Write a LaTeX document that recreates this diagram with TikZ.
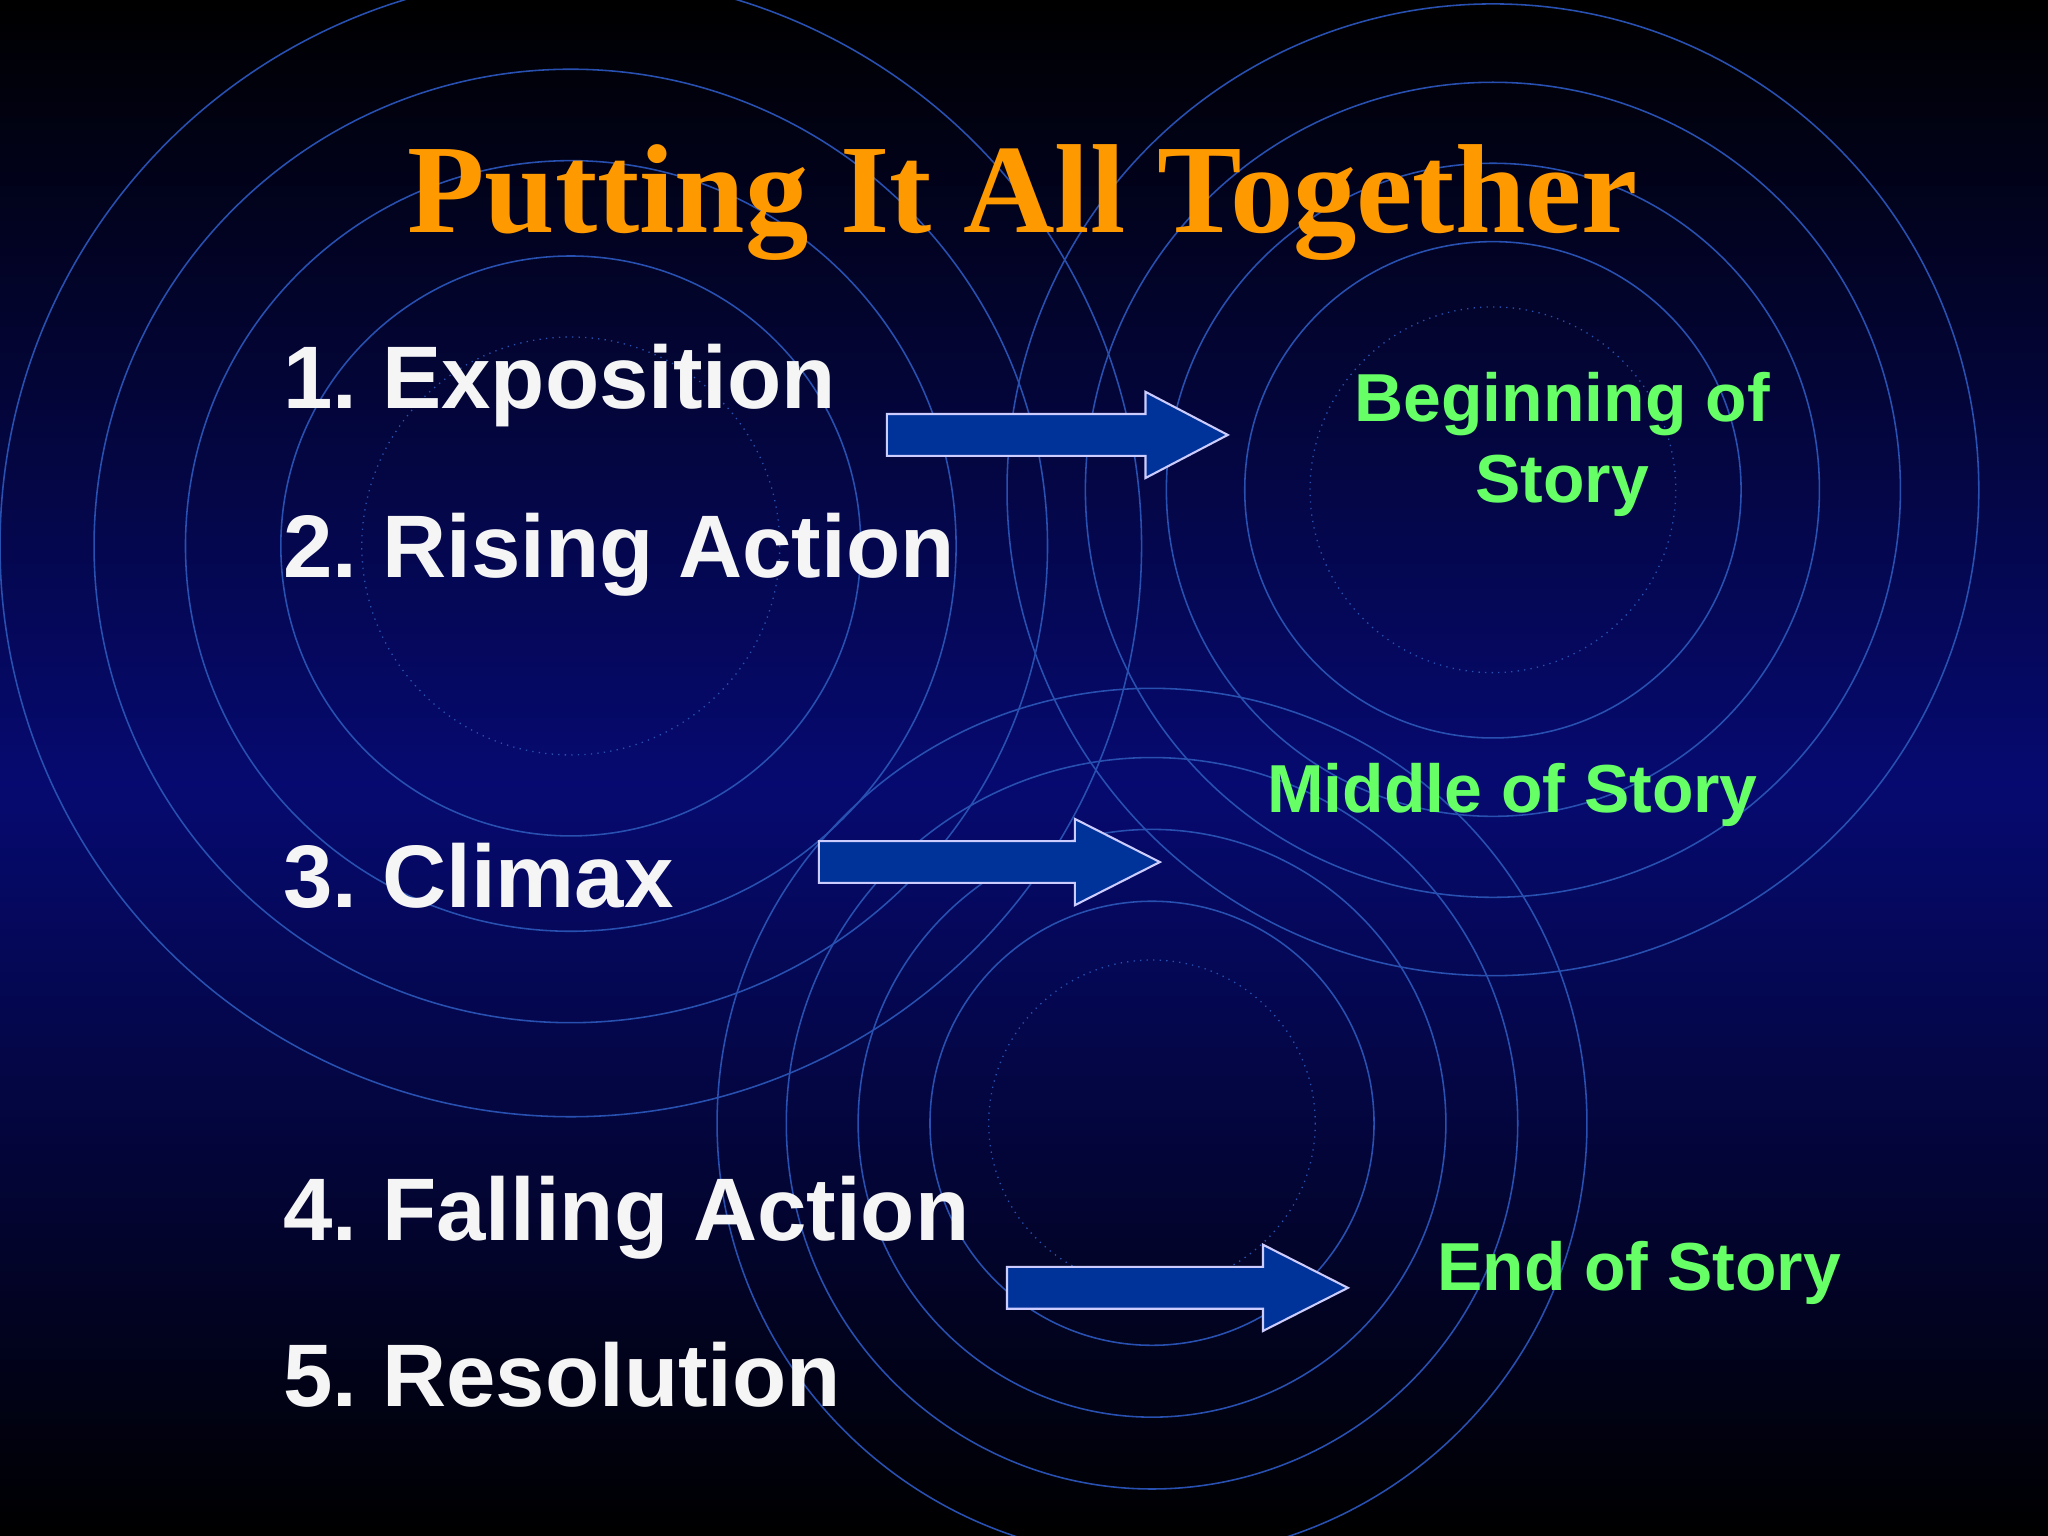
\documentclass[tikz,border=0pt]{standalone}
\usepackage{fontspec}
\setmainfont{Liberation Sans}
\newfontfamily\titlefont{Liberation Serif}
\definecolor{arrowblue}{HTML}{003399}
\definecolor{midblue}{HTML}{060A70}
\definecolor{ringblue}{HTML}{2850B0}
\definecolor{mint}{HTML}{66FF66}
\definecolor{titleorange}{HTML}{FF9900}
\frenchspacing
\begin{document}
\begin{tikzpicture}[x=0.5pt,y=-0.5pt,
  ring/.style={draw=ringblue,line width=0.6pt},
  dring/.style={draw=ringblue,line width=0.5pt,dotted},
  item/.style={anchor=base west,text=white!92!gray,font=\fontsize{34}{40}\selectfont\bfseries},
  lab/.style={anchor=base,text=mint,font=\fontsize{26}{31}\selectfont\bfseries,align=center},
  blockarrow/.style={fill=arrowblue,draw=white!80!blue,line width=0.8pt}]
\useasboundingbox (0,0) rectangle (1568,1176);
\shade[top color=black,bottom color=midblue] (0,0) rectangle (1568,600);
\shade[top color=midblue,bottom color=black] (0,600) rectangle (1568,1176);
\foreach \r in {437,365,295,222} \draw[ring] (437,418) circle (\r);
\draw[dring] (437,418) circle (160);
\foreach \r in {372,312,250,190} \draw[ring] (1143,375) circle (\r);
\draw[dring] (1143,375) circle (140);
\foreach \r in {333,280,225,170} \draw[ring] (882,860) circle (\r);
\draw[dring] (882,860) circle (125);
\node[anchor=base,text=titleorange,font=\fontsize{48.5}{56}\selectfont\titlefont\bfseries] (title) at (783,178) {Putting It All Together};
\node[item] (i1) at (210,313) {1. Exposition};
\node[item] (i2) at (210,442) {2. Rising Action};
\node[item] (i3) at (210,695) {3. Climax};
\node[item] (i4) at (210,950) {4. Falling Action};
\node[item] (i5) at (210,1077) {5. Resolution};
\node[lab] (b1) at (1196,323) {Beginning of};
\node[lab] (b2) at (1196,385) {Story};
\node[lab] (m) at (1158,622) {Middle of Story};
\node[lab] (e) at (1255,988) {End of Story};
\draw[blockarrow] (679,317) -- (877,317) -- (877,300) -- (940,333) -- (877,366) -- (877,349) -- (679,349) -- cycle;
\draw[blockarrow] (627,644) -- (823,644) -- (823,627) -- (888,660) -- (823,693) -- (823,676) -- (627,676) -- cycle;
\draw[blockarrow] (771,970) -- (967,970) -- (967,953) -- (1032,986) -- (967,1019) -- (967,1002) -- (771,1002) -- cycle;
\end{tikzpicture}
\end{document}
